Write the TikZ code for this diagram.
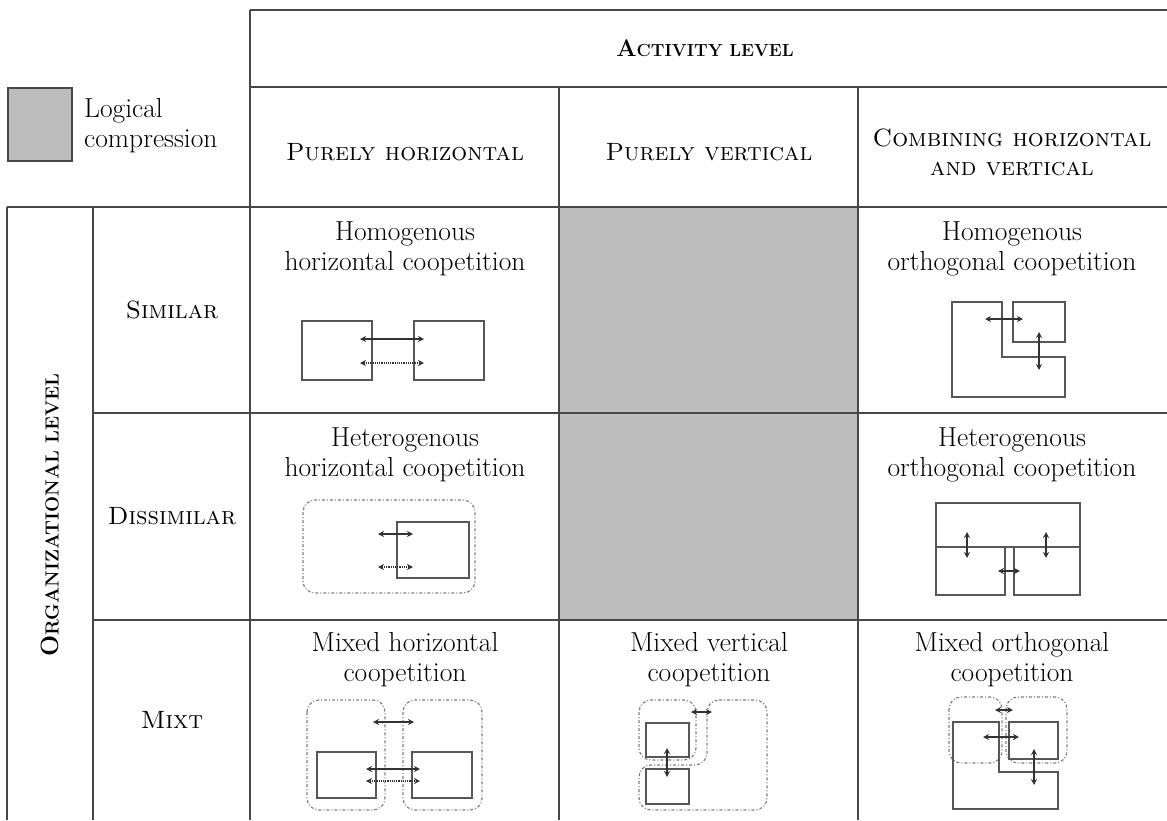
\documentclass[tikz,border=0pt]{standalone}
\usetikzlibrary{arrows.meta}
% bold small capitals built from two sizes of bold capitals
\newcommand{\boldcaps}[3]{\textbf{#1{\fontsize{#3}{#3}\selectfont #2}}}
\begin{document}
\begin{tikzpicture}[x=1pt,y=-1pt,
  tline/.style={line width=1.4pt,draw=black!72},
  fig/.style={line width=1.5pt,draw=black!66},
  zone/.style={line width=1.2pt,draw=black!50,dash pattern=on 3pt off 2pt on 1pt off 2pt,rounded corners=12pt},
  dbl/.style={{Stealth[length=6pt,width=6pt]}-{Stealth[length=6pt,width=6pt]},line width=1.2pt,draw=black!80},
  dbldot/.style={dbl,dash pattern=on 1.2pt off 1pt},
  txt/.style={inner sep=0pt,font=\fontsize{27.5}{30}\selectfont,align=center,text=black},
  head/.style={txt,font=\fontsize{25}{29}\selectfont},
]
\useasboundingbox (0,0) rectangle (1167,820);

% shaded cells (logical compression)
\fill[black!26] (559,207) rectangle (858,620);

% table rules
\draw[tline] (250,10) -- (1167,10);
\draw[tline] (250,87) -- (1167,87);
\draw[tline] (7,207) -- (1167,207);
\draw[tline] (93,413) -- (1167,413);
\draw[tline] (93,620) -- (1167,620);
\draw[tline] (250,10) -- (250,820);
\draw[tline] (559,87) -- (559,820);
\draw[tline] (858,87) -- (858,820);
\draw[tline] (7,207) -- (7,820);
\draw[tline] (93,207) -- (93,820);

% legend
\draw[tline,fill=black!26] (8,88) rectangle (72,161);
\node[txt,anchor=west,align=left] (legend) at (84,126) {Logical\\compression};

% column headers
\node[head] (act) at (705,48) {\fontsize{24}{24}\selectfont\boldcaps{A}{CTIVITY LEVEL}{17.5}};
\node[head] (ph) at (405,152) {\textsc{Purely horizontal}};
\node[head] (pv) at (709,152) {\textsc{Purely vertical}};
\node[head] (cb) at (1012,152) {\textsc{Combining horizontal}\\\textsc{and vertical}};

% row headers
\node[head,rotate=90] (org) at (50,515) {\fontsize{25}{25}\selectfont\boldcaps{O}{RGANIZATIONAL LEVEL}{19}};
\node[head] (sim) at (172,310) {\textsc{Similar}};
\node[head] (dis) at (172,516) {\textsc{Dissimilar}};
\node[head] (mix) at (172,720) {\textsc{Mixt}};

% cell titles
\node[txt] (t11) at (405,249) {Homogenous\\horizontal coopetition};
\node[txt] (t13) at (1012,249) {Homogenous\\orthogonal coopetition};
\node[txt] (t21) at (405,455) {Heterogenous\\horizontal coopetition};
\node[txt] (t23) at (1012,455) {Heterogenous\\orthogonal coopetition};
\node[txt] (t31) at (405,660) {Mixed horizontal\\coopetition};
\node[txt] (t32) at (709,660) {Mixed vertical\\coopetition};
\node[txt] (t33) at (1012,660) {Mixed orthogonal\\coopetition};

% homogenous horizontal
\draw[fig] (302,321) rectangle (372,380);
\draw[fig] (414,321) rectangle (484,380);
\draw[dbl] (360,339) -- (424,339);
\draw[dbldot] (360,363) -- (424,363);

% homogenous orthogonal
\draw[fig] (952,302) -- (1002,302) -- (1002,357) -- (1065,357) -- (1065,397) -- (952,397) -- cycle;
\draw[fig] (1013,302) rectangle (1065,342);
\draw[dbl] (985,319) -- (1023,319);
\draw[dbl] (1039,332) -- (1039,370);

% heterogenous horizontal
\draw[zone] (303,500) rectangle (475,593);
\draw[fig] (397,522) rectangle (469,578);
\draw[dbl] (378,534) -- (413,534);
\draw[dbldot] (378,567) -- (413,567);

% heterogenous orthogonal
\draw[fig] (936,503) rectangle (1080,547);
\draw[fig] (936,547) -- (936,595) -- (1005,595) -- (1005,547);
\draw[fig] (1014,547) -- (1014,595) -- (1080,595) -- (1080,547);
\draw[dbl] (967,532) -- (967,558);
\draw[dbl] (1046,532) -- (1046,558);
\draw[dbl] (998,571) -- (1020,571);

% mixed horizontal
\draw[zone] (307,700) rectangle (385,810);
\draw[zone] (403,700) rectangle (482,810);
\draw[fig] (317,752) rectangle (376,798);
\draw[fig] (412,752) rectangle (472,798);
\draw[dbl] (373,722) -- (414,722);
\draw[dbl] (366,769) -- (420,769);
\draw[dbldot] (366,781) -- (420,781);

% mixed vertical
\draw[zone] (639,700) rectangle (696,760);
\draw[zone] (707,700) -- (767,700) -- (767,810) -- (639,810) -- (639,765) -- (707,765) -- cycle;
\draw[fig] (646,723) rectangle (689,757);
\draw[fig] (646,769) rectangle (689,804);
\draw[dbl] (667,748) -- (667,777);
\draw[dbl] (691,712) -- (712,712);

% mixed orthogonal
\draw[zone] (949,697) rectangle (1002,763);
\draw[zone] (1006,697) rectangle (1067,763);
\draw[fig] (953,722) -- (999,722) -- (999,772) -- (1058,772) -- (1058,809) -- (953,809) -- cycle;
\draw[fig] (1009,722) rectangle (1058,759);
\draw[dbl] (995,710) -- (1013,710);
\draw[dbl] (983,737) -- (1019,737);
\draw[dbl] (1034,749) -- (1034,785);
\end{tikzpicture}
\end{document}
